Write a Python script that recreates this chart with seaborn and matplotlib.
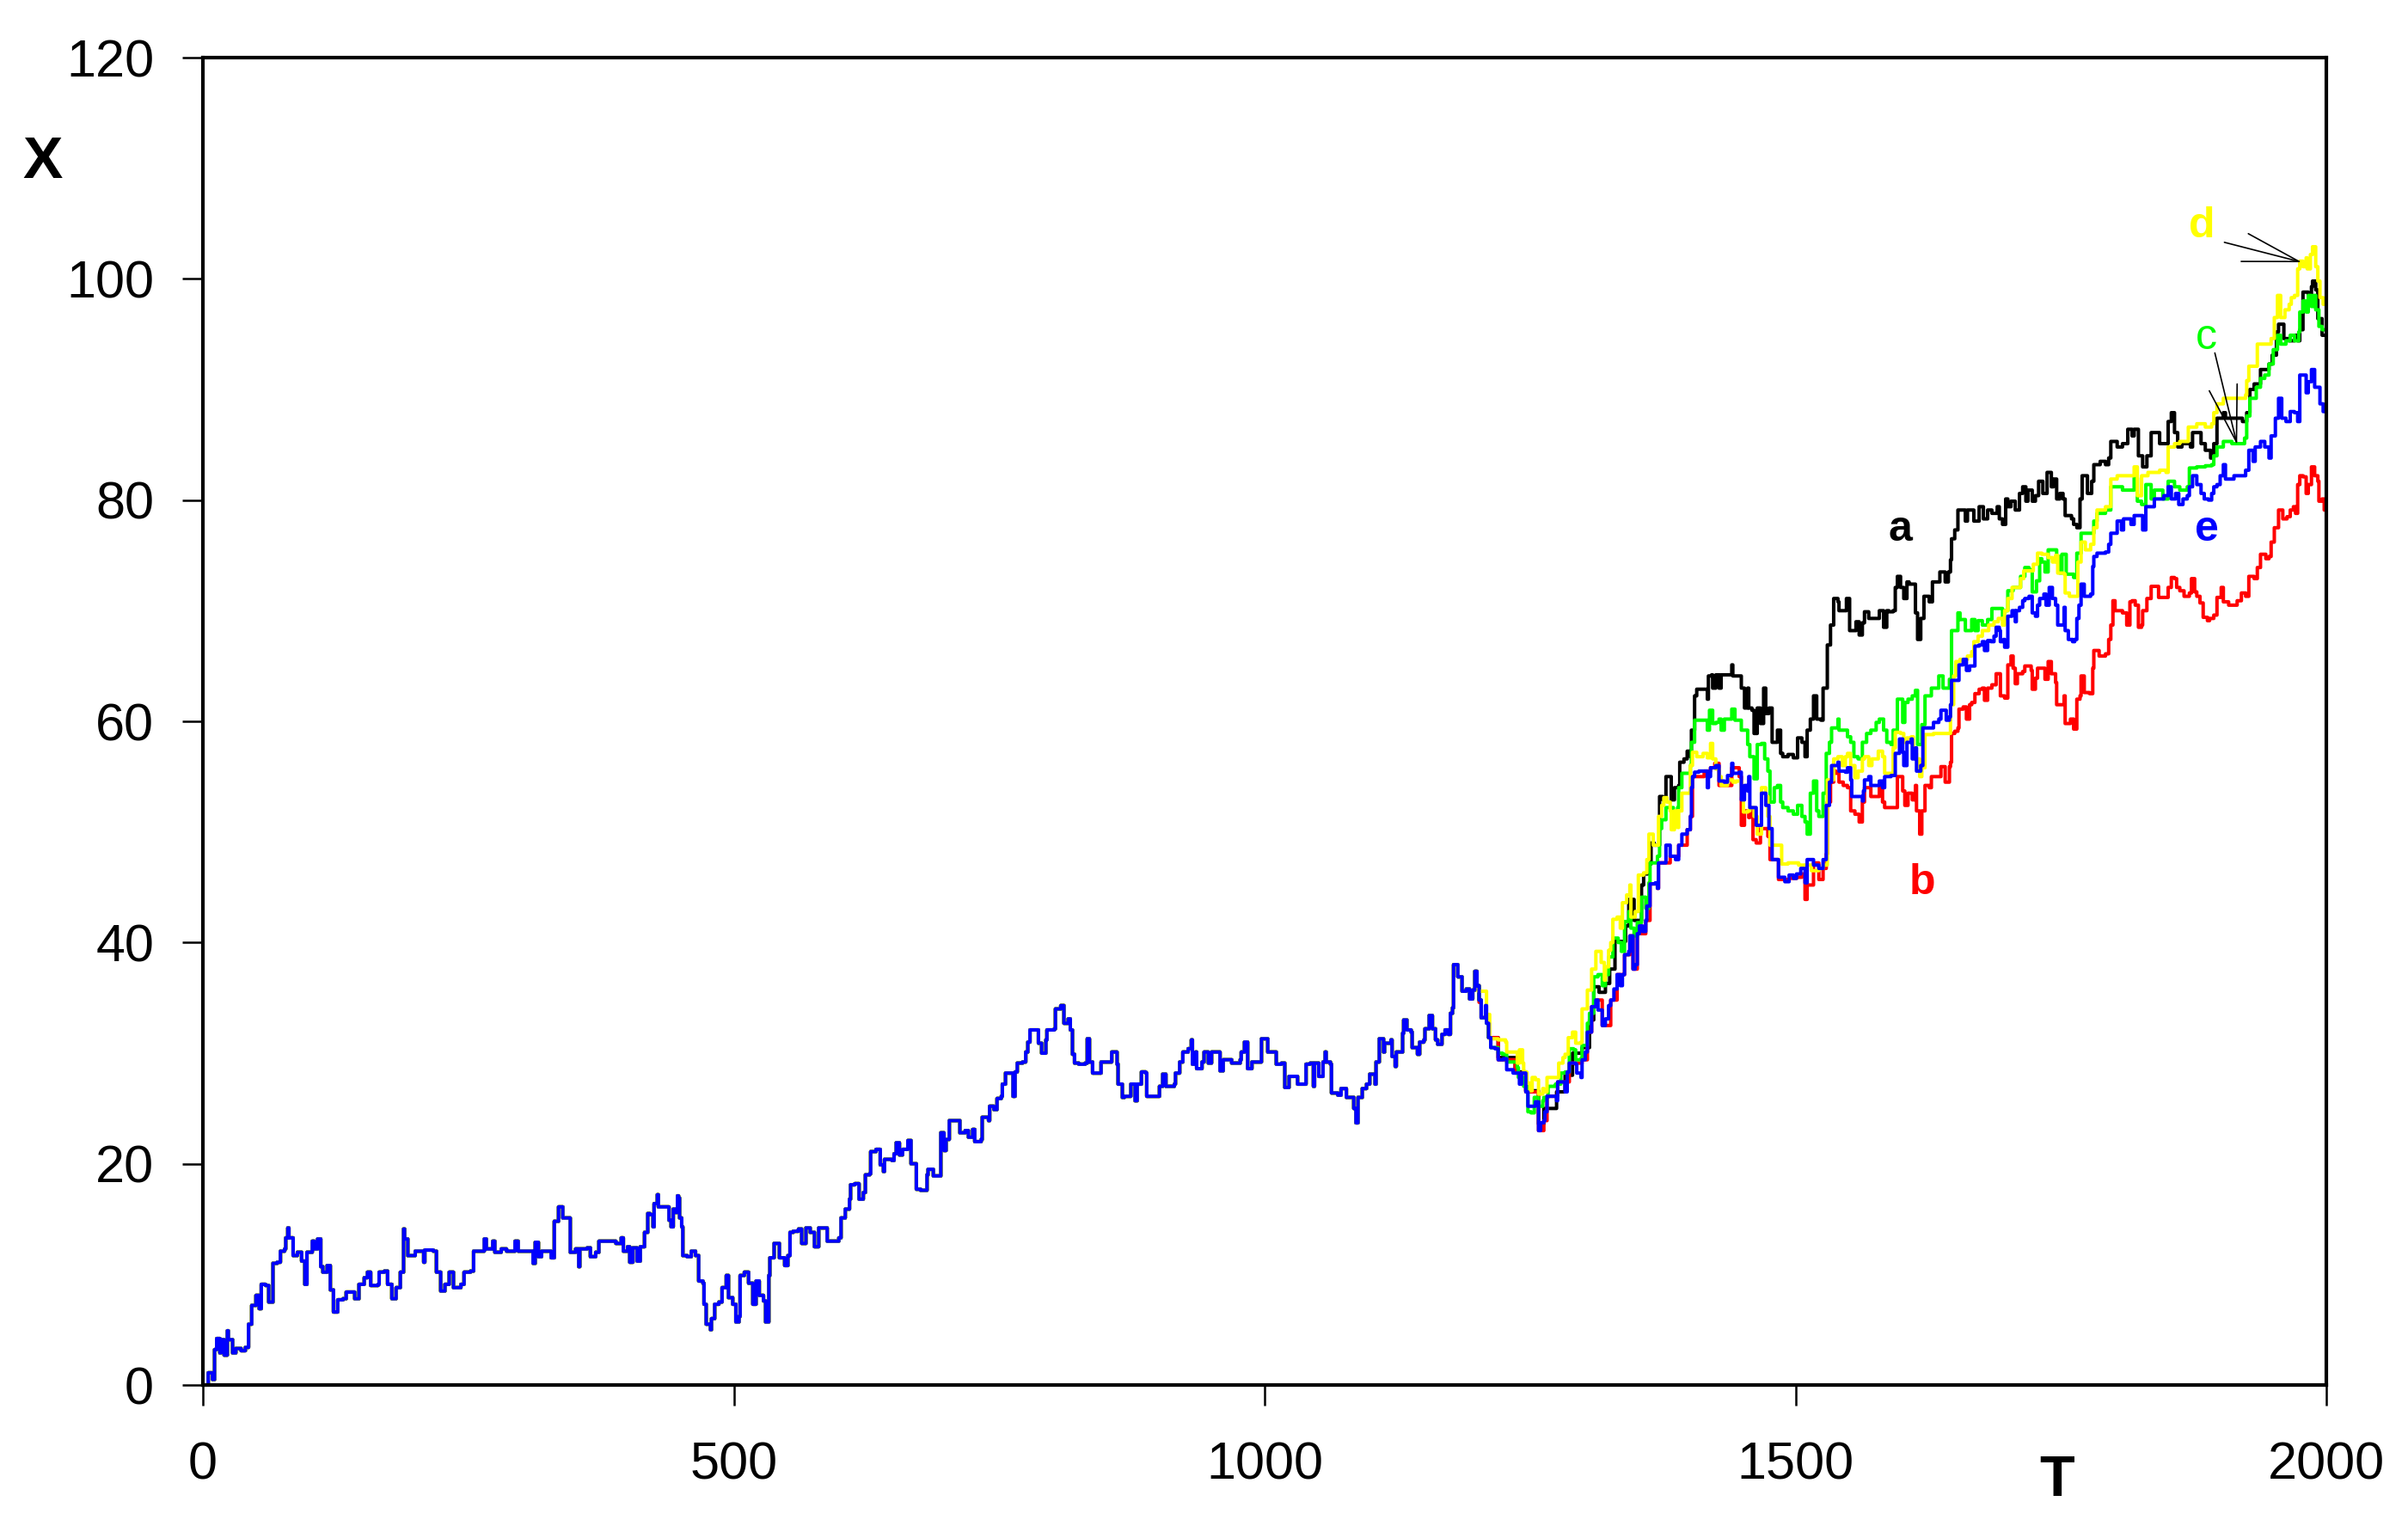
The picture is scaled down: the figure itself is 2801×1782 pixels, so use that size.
import pandas as pd
import matplotlib.pyplot as plt
import seaborn as sns

# shared history of the walk, T = 0 .. 1200 (all five runs start from it)
common = [(0, 0), (4, 0), (5, 1.1), (9, 1.1), (9, 0.5), (11, 3.2), (13, 4.2), (16, 2.9), (17, 4.1), (20, 2.7),
          (23, 4.9), (24, 4.1), (27, 4.1), (28, 2.9), (31, 3.3), (36, 3.1), (40, 3.4), (43, 5.5), (46, 7.2), (50, 8.1),
          (53, 6.9), (55, 9.1), (59, 9.0), (62, 7.5), (66, 11.0), (70, 11.1), (73, 12.1), (77, 12.3), (78, 13.3),
          (80, 14.2), (81, 13.3), (85, 11.7), (89, 12.0), (93, 11.2), (96, 9.1), (98, 12.0), (103, 13.0), (105, 12.3),
          (108, 13.2), (111, 10.7), (113, 10.2), (117, 10.8), (120, 8.6), (123, 6.6), (127, 7.7), (132, 7.8),
          (135, 8.4), (143, 7.8), (147, 9.1), (152, 9.7), (155, 10.2), (158, 9.0), (165, 9.1), (166, 10.2),
          (171, 10.3), (174, 9.1), (178, 7.8), (182, 8.8), (186, 10.2), (189, 14.1), (190, 13.2), (193, 11.7),
          (200, 12.1), (205, 12.1), (208, 11.1), (209, 12.2), (217, 12.1), (220, 10.2), (224, 8.5), (228, 9.1),
          (232, 10.2), (236, 8.8), (243, 9.1), (246, 10.2), (252, 10.3), (255, 12.1), (262, 12.1), (265, 13.2),
          (267, 12.3), (273, 13.0), (275, 12.0), (281, 12.3), (286, 12.1), (294, 13.0), (297, 12.1), (308, 12.1),
          (311, 11.0), (313, 12.9), (316, 11.6), (319, 12.1), (324, 12.1), (328, 11.5), (331, 14.8), (335, 16.1),
          (339, 15.1), (344, 15.1), (346, 12.0), (351, 12.3), (354, 10.7), (355, 12.3), (362, 12.4), (365, 11.6),
          (370, 12.0), (373, 13.0), (378, 13.0), (386, 13.0), (389, 12.8), (394, 13.3), (396, 12.1), (400, 12.5),
          (402, 11.1), (405, 12.4), (409, 11.2), (412, 12.5), (416, 13.8), (419, 15.5),
          (421, 15.4), (424, 14.3), (425, 16.4), (428, 17.2), (429, 16.1), (436, 16.1), (439, 14.9), (441, 14.3),
          (443, 15.9), (445, 15.6), (447, 17.1), (448, 16.9), (449, 15.1), (451, 14.3), (452, 11.7), (456, 11.6),
          (460, 12.1), (464, 11.7), (467, 9.4), (471, 9.2), (472, 7.3), (474, 5.5), (478, 5.0), (479, 6.0),
          (482, 7.3), (486, 7.5), (489, 8.8), (493, 9.9), (495, 7.9), (499, 7.3), (502, 5.7), (505, 6.2), (506, 9.9),
          (510, 10.2), (514, 9.2), (518, 7.3), (521, 9.4), (524, 8.1), (528, 7.6), (530, 5.7), (533, 9.9),
          (534, 11.5), (538, 12.8), (543, 11.5), (548, 10.8), (551, 11.7), (553, 13.8), (556, 13.9), (561, 14.1),
          (564, 12.8), (568, 14.2), (572, 13.8), (576, 12.5), (580, 14.2), (586, 14.2), (588, 13.0), (594, 13.0),
          (599, 13.3), (601, 15.1), (605, 15.9), (609, 16.8), (610, 18.1), (614, 18.2), (618, 16.8), (622, 17.4),
          (624, 19.0), (628, 19.1), (629, 21.1), (634, 21.3), (638, 19.9), (641, 19.3), (642, 20.4), (649, 20.3),
          (651, 20.9), (653, 21.9), (656, 20.8), (659, 21.3), (661, 21.3), (664, 22.1), (667, 20.0), (671, 20.0),
          (672, 17.7), (676, 17.6), (680, 17.6), (682, 19.0), (683, 19.5), (688, 18.9), (694, 18.9), (695, 22.8),
          (698, 21.2), (700, 22.2), (703, 23.9), (710, 23.9), (713, 22.8), (718, 23.0), (721, 22.4), (725, 23.1),
          (727, 22.0), (733, 22.2), (734, 24.2), (740, 23.9), (741, 25.2), (745, 24.9), (748, 25.9), (752, 26.1),
          (753, 27.2), (756, 28.2), (760, 28.2), (763, 26.1), (765, 28.3), (767, 29.1), (772, 29.2), (775, 30.1),
          (777, 31.0), (779, 32.1), (784, 32.1), (787, 30.9), (790, 30.0), (794, 31.2), (795, 32.1), (802, 32.2),
          (803, 34.0), (808, 34.3), (811, 32.7), (815, 33.1), (817, 32.1), (819, 29.9), (821, 29.1), (825, 29.0),
          (831, 29.1), (833, 31.3), (835, 29.2), (838, 28.2),
          (842, 28.2), (846, 28.2), (846, 29.2), (854, 29.2), (856, 30.1), (860, 30.1), (861, 29.0), (862, 27.2),
          (866, 26.0), (868, 26.1), (873, 26.1), (874, 27.2), (877, 27.2), (878, 25.7), (880, 27.2), (882, 27.2),
          (884, 28.3), (888, 28.2), (889, 26.1), (900, 26.1), (901, 27.0), (904, 28.1), (907, 27.0), (915, 27.2),
          (916, 28.2), (920, 29.2), (923, 30.1), (928, 30.4), (931, 31.2), (932, 29.0), (935, 30.1), (936, 28.6),
          (941, 29.2), (943, 30.1), (947, 29.1), (950, 30.1), (954, 30.1), (958, 28.4), (961, 29.4), (969, 29.1),
          (977, 29.4), (978, 30.1), (981, 31.0), (984, 28.6), (988, 29.2), (995, 29.2), (997, 31.3), (1001, 31.3),
          (1003, 30.1), (1009, 30.1), (1011, 29.0), (1016, 29.1), (1019, 26.9), (1023, 27.9), (1028, 27.9),
          (1031, 27.2), (1036, 27.2), (1039, 29.0), (1043, 29.1), (1046, 27.0), (1047, 29.1), (1051, 27.9),
          (1055, 29.2), (1057, 30.1), (1058, 29.2), (1062, 29.0), (1063, 26.4), (1069, 26.2), (1072, 26.8),
          (1077, 26.0), (1082, 26.0), (1084, 25.0), (1086, 23.7), (1088, 26.0), (1092, 26.8), (1096, 27.2),
          (1099, 28.1), (1104, 27.2), (1105, 29.2), (1108, 31.3), (1112, 30.1), (1113, 30.9), (1119, 31.2),
          (1120, 29.7), (1123, 28.8), (1124, 30.1), (1128, 30.1), (1130, 31.8), (1131, 33.0), (1134, 32.1),
          (1138, 31.9), (1139, 30.5), (1144, 29.9), (1146, 31.0), (1150, 31.2), (1151, 32.2), (1155, 33.4),
          (1158, 32.2), (1161, 31.2), (1163, 30.8), (1167, 31.7), (1170, 32.1), (1173, 31.7), (1175, 33.6),
          (1177, 34.1), (1178, 38.0), (1182, 36.9), (1186, 36.1), (1186, 35.6), (1190, 35.8), (1193, 34.9),
          (1196, 35.7), (1198, 37.4), (1200, 36.1)]

# run a (black), T > 1200
run_a = [(1202, 34.8), (1204, 33.2), (1211, 31.4), (1220, 29.6), (1236, 28.3), (1246, 26.6), (1258, 23.6),
         (1263, 25.0), (1275, 26.5), (1283, 28.0), (1290, 30.0), (1299, 30.5), (1306, 33.0), (1310, 36.0),
         (1315, 35.5), (1321, 36.3), (1325, 37.6), (1330, 40.1), (1340, 41.5), (1343, 43.9), (1348, 42.0),
         (1355, 45.2), (1357, 46.2), (1361, 47.1), (1364, 49.0), (1367, 48.8), (1372, 53.2), (1375, 52.9),
         (1378, 55.0), (1382, 55.0), (1383, 52.9), (1386, 54.0), (1390, 54.2), (1391, 56.3), (1395, 56.6),
         (1398, 57.3), (1401, 56.8), (1402, 59.2), (1405, 62.3), (1407, 62.9), (1413, 62.9), (1417, 62.0),
         (1418, 64.1), (1421, 64.2), (1422, 63.0), (1425, 64.2), (1428, 63.0), (1430, 64.2), (1440, 65.1),
         (1441, 64.1), (1448, 64.1), (1449, 63.0), (1452, 61.2), (1455, 63.0), (1456, 61.2), (1459, 61.0),
         (1461, 58.9), (1464, 61.2), (1467, 59.8), (1470, 63.0), (1472, 60.7), (1475, 61.2), (1478, 58.1),
         (1482, 58.1), (1483, 59.2), (1486, 57.1), (1488, 56.8), (1493, 57.0), (1498, 56.7), (1502, 58.5),
         (1506, 58.1), (1509, 56.8), (1511, 59.2), (1514, 60.2), (1517, 62.3), (1520, 60.2), (1524, 60.1),
         (1526, 63.0), (1530, 66.9), (1533, 68.7), (1536, 71.1), (1540, 70.8), (1541, 70.0), (1547, 70.0),
         (1548, 71.1), (1551, 68.2), (1555, 68.2), (1557, 69.0), (1560, 67.8), (1563, 68.9), (1565, 69.9),
         (1569, 69.3), (1578, 69.3), (1579, 70.0), (1583, 68.5), (1586, 70.0), (1588, 69.9), (1592, 70.0),
         (1594, 72.1), (1596, 73.1), (1599, 72.1), (1602, 71.1), (1605, 72.6), (1607, 72.4), (1610, 72.4),
         (1613, 69.8), (1615, 67.4), (1618, 69.3), (1621, 71.3), (1626, 70.8), (1629, 72.6), (1633, 72.6),
         (1636, 73.5), (1641, 72.6), (1644, 73.5), (1646, 74.6), (1647, 76.5), (1650, 77.3), (1653, 79.1),
         (1657, 79.1), (1660, 78.1), (1662, 79.1), (1667, 79.1), (1668, 78.1), (1673, 79.4), (1677, 78.3),
         (1681, 79.1), (1685, 78.8), (1690, 79.4), (1692, 78.3), (1695, 77.8), (1698, 80.1), (1700, 79.4),
         (1703, 79.9), (1707, 79.1), (1711, 80.6), (1714, 81.2), (1717, 79.9), (1719, 80.9), (1723, 79.9),
         (1726, 80.4), (1729, 81.7), (1733, 80.6), (1737, 82.5), (1741, 81.2), (1743, 81.9), (1746, 80.1),
         (1749, 80.6), (1752, 80.1), (1754, 78.6), (1760, 78.3), (1762, 77.8), (1765, 77.5), (1768, 80.1),
         (1770, 82.2), (1775, 80.6), (1779, 81.7), (1781, 83.2), (1787, 83.5), (1792, 83.2), (1795, 83.8),
         (1797, 85.3), (1803, 84.8), (1808, 85.1), (1813, 86.4), (1817, 85.8), (1819, 86.4), (1823, 84.0),
         (1827, 83.0), (1831, 84.0), (1835, 86.1), (1840, 86.1), (1843, 85.1), (1849, 85.1), (1851, 87.1),
         (1854, 87.9), (1857, 86.1), (1860, 84.8), (1864, 85.1), (1868, 85.1), (1872, 84.8), (1874, 86.1),
         (1878, 86.1), (1882, 85.1), (1886, 84.5), (1891, 83.8), (1894, 85.1), (1897, 87.4), (1903, 87.9),
         (1905, 87.4), (1911, 87.4), (1916, 87.4), (1921, 87.1), (1925, 87.9), (1928, 90.0), (1932, 90.5),
         (1938, 91.8), (1943, 91.8), (1946, 92.3), (1949, 93.1), (1953, 95.2), (1955, 95.9), (1960, 94.6),
         (1965, 94.4), (1970, 94.9), (1973, 94.4), (1975, 95.4), (1978, 98.8), (1982, 98.8), (1983, 97.7),
         (1986, 99.3), (1987, 99.8), (1990, 99.0), (1992, 96.4), (1996, 94.9), (2000, 94.6)]

# run b (red)
run_b = [(1202, 34.6), (1204, 33.2), (1211, 31.4), (1220, 29.4), (1236, 28.2), (1246, 26.5), (1258, 23.0),
         (1263, 23.9), (1266, 26.1), (1276, 27.4), (1287, 29.1), (1299, 29.4), (1304, 31.9), (1308, 34.2),
         (1312, 34.8), (1318, 32.5), (1326, 34.8), (1332, 37.1), (1339, 38.9), (1344, 40.6), (1347, 37.6),
         (1351, 40.8), (1359, 42.0), (1363, 45.3), (1370, 44.9), (1371, 47.2), (1382, 47.8), (1390, 48.8),
         (1398, 50.2), (1401, 51.4), (1403, 55.0), (1414, 55.5), (1420, 55.8), (1424, 56.2), (1428, 54.2),
         (1432, 54.2), (1440, 55.8), (1447, 55.0), (1449, 50.6), (1452, 51.9), (1456, 51.3), (1457, 51.9),
         (1460, 49.3), (1463, 49.0), (1467, 50.3), (1474, 49.6), (1476, 47.5), (1484, 45.7), (1494, 45.8),
         (1501, 45.9), (1506, 46.2), (1509, 43.9), (1511, 45.2), (1517, 47.2), (1522, 45.7), (1526, 46.7),
         (1529, 48.0), (1530, 52.7), (1533, 54.5), (1536, 55.5), (1538, 55.3), (1541, 54.5), (1545, 54.2),
         (1549, 54.0), (1552, 51.9), (1556, 51.6), (1560, 50.9), (1563, 52.7), (1565, 54.0), (1568, 54.0),
         (1571, 53.2), (1576, 53.2), (1579, 54.0), (1582, 52.7), (1584, 52.2), (1594, 52.2), (1596, 55.0),
         (1601, 53.7), (1603, 52.4), (1606, 53.5), (1610, 52.9), (1613, 54.2), (1614, 51.9), (1617, 49.8),
         (1619, 51.9), (1622, 54.2), (1626, 54.0), (1628, 55.0), (1635, 55.0), (1637, 55.9), (1639, 55.9),
         (1641, 54.5), (1642, 54.5), (1645, 55.9), (1646, 56.3), (1647, 58.9), (1650, 59.1), (1653, 59.4),
         (1654, 61.1), (1658, 61.3), (1661, 60.2), (1664, 61.5), (1666, 61.7), (1669, 62.5), (1673, 62.9),
         (1676, 63.0), (1678, 61.9), (1681, 63.0), (1685, 63.3), (1689, 64.3), (1692, 64.3), (1693, 62.3),
         (1697, 62.1), (1700, 65.1), (1703, 65.9), (1705, 64.8), (1707, 63.4), (1709, 64.3), (1714, 64.5),
         (1716, 65.0), (1722, 64.6), (1723, 62.9), (1726, 63.9), (1728, 64.8), (1732, 64.8), (1735, 63.8),
         (1738, 65.4), (1741, 64.3), (1745, 63.5), (1746, 61.5), (1751, 61.5), (1753, 62.3), (1754, 59.8),
         (1759, 60.2), (1762, 59.3), (1765, 62.0), (1768, 62.3), (1769, 64.1), (1772, 62.6), (1777, 62.5),
         (1780, 64.8), (1781, 66.4), (1786, 65.9), (1792, 66.1), (1795, 67.4), (1797, 68.7), (1799, 70.9),
         (1801, 70.0), (1808, 69.8), (1812, 68.7), (1815, 70.8), (1817, 70.9), (1820, 70.5), (1823, 68.5),
         (1826, 68.7), (1827, 70.0), (1831, 71.1), (1835, 72.2), (1839, 72.2), (1842, 71.2), (1849, 71.2),
         (1851, 72.1), (1854, 73.0), (1857, 72.9), (1859, 72.1), (1862, 71.8), (1866, 71.3), (1871, 71.6),
         (1873, 72.9), (1876, 71.7), (1878, 71.3), (1881, 70.7), (1884, 69.4), (1888, 69.1), (1890, 69.3),
         (1894, 69.6), (1897, 71.2), (1901, 72.1), (1903, 70.8), (1908, 70.5), (1913, 70.5), (1916, 70.9),
         (1920, 71.6), (1924, 71.3), (1927, 73.1), (1932, 72.9), (1935, 73.9), (1938, 75.1), (1943, 74.7),
         (1946, 74.9), (1948, 76.2), (1951, 77.5), (1955, 79.1), (1959, 78.3), (1963, 78.5), (1966, 79.1),
         (1969, 79.4), (1971, 78.8), (1973, 81.4), (1975, 82.2), (1978, 82.1), (1981, 80.6), (1983, 81.4),
         (1986, 83.0), (1989, 82.2), (1992, 81.7), (1993, 79.9), (1996, 80.1), (1998, 79.1), (2000, 79.2)]

# run c (green)
run_c = [(1202, 34.8), (1204, 33.2), (1209, 32.7), (1211, 31.4), (1213, 30.5), (1220, 30.0), (1224, 29.9),
         (1228, 29.2), (1232, 29.2), (1238, 28.7), (1239, 27.8), (1244, 27.0), (1248, 24.7), (1251, 24.6),
         (1254, 26.0), (1258, 25.2), (1262, 25.7), (1263, 26.0), (1267, 27.0), (1274, 27.2), (1279, 28.2),
         (1283, 28.3), (1287, 30.4), (1291, 30.3), (1293, 29.4), (1298, 29.5), (1299, 30.7), (1304, 32.7),
         (1306, 33.6), (1310, 36.9), (1314, 37.1), (1318, 36.1), (1321, 37.1), (1324, 38.7), (1328, 40.4),
         (1333, 40.0), (1336, 39.2), (1339, 41.9), (1343, 42.8), (1345, 41.3), (1348, 40.6), (1351, 41.8),
         (1355, 44.1), (1359, 43.1), (1362, 45.4), (1363, 47.2), (1368, 47.2), (1370, 47.8), (1372, 50.3),
         (1374, 51.1), (1378, 52.2), (1382, 52.2), (1385, 51.8), (1389, 52.2), (1390, 54.0), (1393, 55.3),
         (1398, 55.3), (1401, 56.0), (1402, 58.1), (1405, 60.1), (1414, 60.1), (1417, 59.2), (1419, 61.0),
         (1422, 59.8), (1425, 59.9), (1428, 60.2), (1430, 59.2), (1433, 60.2), (1437, 60.2), (1440, 61.1),
         (1443, 60.1), (1447, 60.1), (1449, 59.2), (1455, 57.9), (1457, 56.8), (1460, 56.8), (1461, 54.8),
         (1464, 57.9), (1468, 58.0), (1471, 56.6), (1474, 55.5), (1476, 52.7), (1480, 54.0), (1483, 54.2),
         (1486, 52.7), (1488, 52.2), (1493, 51.9), (1498, 51.6), (1502, 52.4), (1506, 51.4), (1509, 50.9),
         (1511, 49.8), (1514, 53.5), (1517, 54.6), (1520, 51.9), (1522, 51.4), (1526, 53.5), (1529, 57.1),
         (1532, 58.1), (1534, 59.4), (1540, 60.2), (1541, 59.2), (1547, 59.2), (1549, 58.6), (1552, 58.1),
         (1555, 56.8), (1559, 56.6), (1563, 58.1), (1567, 58.9), (1571, 59.2), (1576, 59.9), (1579, 60.2),
         (1583, 59.2), (1586, 58.1), (1590, 57.9), (1592, 59.2), (1596, 62.0), (1601, 59.9), (1603, 61.7),
         (1606, 62.0), (1610, 62.3), (1613, 62.8), (1615, 57.9), (1619, 59.7), (1622, 62.3), (1628, 63.0),
         (1635, 64.1), (1639, 63.0), (1645, 63.8), (1647, 68.2), (1653, 69.8), (1655, 69.2), (1660, 68.2),
         (1666, 69.2), (1669, 68.2), (1672, 69.1), (1676, 68.7), (1681, 69.2), (1685, 70.2), (1691, 70.2),
         (1695, 69.2), (1697, 70.0), (1700, 71.8), (1705, 72.1), (1708, 72.1), (1712, 73.1), (1716, 73.9),
         (1720, 73.7), (1723, 71.7), (1727, 72.7), (1730, 74.7), (1732, 74.4), (1735, 73.5), (1738, 75.5),
         (1741, 75.5), (1746, 74.9), (1749, 73.4), (1751, 75.1), (1755, 73.3), (1762, 73.0), (1765, 75.2),
         (1769, 77.0), (1781, 78.1), (1784, 78.8), (1792, 79.1), (1797, 81.2), (1808, 80.9), (1813, 80.9),
         (1819, 82.0), (1822, 79.9), (1826, 79.6), (1830, 81.4), (1835, 80.1), (1838, 80.9), (1846, 80.1),
         (1851, 81.7), (1857, 81.2), (1862, 80.9), (1869, 81.2), (1871, 82.9), (1878, 83.0), (1886, 83.1),
         (1892, 83.2), (1894, 84.0), (1897, 84.8), (1903, 85.3), (1911, 85.1), (1919, 85.1), (1923, 85.6),
         (1925, 87.6), (1928, 89.2), (1934, 90.2), (1938, 91.0), (1942, 91.3), (1946, 92.3), (1950, 93.6),
         (1954, 94.9), (1957, 94.1), (1962, 94.4), (1966, 94.9), (1970, 94.4), (1974, 95.2), (1975, 97.0),
         (1978, 98.0), (1981, 97.0), (1983, 98.5), (1986, 97.5), (1988, 98.5), (1990, 97.2), (1993, 95.7),
         (1996, 95.4), (2000, 95.2)]

# run d (yellow)
run_d = [(1201, 35.6), (1205, 35.6), (1209, 33.5), (1212, 31.3), (1220, 31.2), (1227, 31.0), (1228, 30.1),
         (1236, 30.1), (1238, 29.1), (1240, 30.3), (1243, 29.1), (1244, 28.3), (1247, 27.3), (1250, 26.6),
         (1252, 27.8), (1255, 27.6), (1258, 26.3), (1262, 26.8), (1263, 26.5), (1266, 27.8), (1271, 27.8),
         (1277, 29.1), (1281, 29.6), (1283, 29.9), (1286, 31.4), (1290, 31.9), (1293, 30.9), (1298, 31.0),
         (1299, 34.0), (1304, 35.7), (1306, 35.7), (1308, 37.6), (1312, 39.2), (1314, 39.2), (1317, 38.2),
         (1320, 36.6), (1321, 37.8), (1324, 39.3), (1326, 40.0), (1328, 42.1), (1332, 42.3), (1335, 41.3),
         (1337, 43.6), (1341, 44.3), (1344, 45.2), (1345, 42.3), (1349, 42.8), (1352, 46.1), (1357, 46.3),
         (1360, 47.5), (1362, 49.8), (1364, 49.8), (1366, 48.8), (1371, 51.4), (1374, 52.4), (1376, 53.1),
         (1379, 52.7), (1382, 51.9), (1383, 50.2), (1386, 51.9), (1389, 50.4), (1390, 51.9), (1393, 53.5),
         (1397, 53.5), (1401, 56.0), (1403, 57.2), (1407, 56.8), (1413, 57.1), (1417, 56.7), (1420, 58.0),
         (1422, 56.6), (1425, 55.7), (1428, 55.0), (1430, 54.2), (1436, 54.7), (1441, 54.5), (1444, 54.6),
         (1449, 53.2), (1451, 51.8), (1455, 51.9), (1457, 52.2), (1461, 51.4), (1464, 49.8), (1468, 54.0),
         (1472, 53.2), (1474, 51.4), (1476, 48.8), (1487, 47.1), (1493, 47.2), (1501, 47.2), (1503, 47.0),
         (1509, 47.0), (1515, 46.5), (1522, 46.7), (1526, 47.0), (1530, 54.7), (1536, 56.6), (1540, 56.8),
         (1544, 56.0), (1547, 56.8), (1549, 57.1), (1552, 56.0), (1556, 54.9), (1559, 55.5), (1563, 56.6),
         (1565, 56.8), (1569, 56.0), (1572, 56.6), (1576, 56.6), (1578, 57.3), (1582, 56.8), (1584, 55.3),
         (1590, 55.3), (1592, 57.6), (1594, 59.0), (1599, 58.9), (1602, 58.1), (1605, 58.5), (1609, 58.6),
         (1611, 57.1), (1614, 56.6), (1617, 55.0), (1619, 55.8), (1622, 58.8), (1630, 58.9), (1638, 58.9),
         (1646, 61.5), (1649, 64.1), (1651, 65.4), (1655, 65.6), (1660, 65.6), (1662, 65.9), (1666, 66.3),
         (1668, 67.2), (1672, 67.7), (1676, 68.2), (1682, 68.7), (1687, 69.0), (1691, 69.3), (1695, 68.7),
         (1697, 70.0), (1700, 71.1), (1704, 72.1), (1708, 72.1), (1712, 72.9), (1715, 73.6), (1720, 73.6),
         (1724, 74.2), (1728, 75.2), (1732, 75.1), (1738, 74.8), (1742, 74.4), (1745, 75.0), (1747, 73.4),
         (1753, 73.3), (1754, 71.6), (1758, 71.3), (1762, 71.3), (1766, 74.4), (1769, 76.2), (1773, 75.5),
         (1778, 76.0), (1781, 77.5), (1784, 79.1), (1792, 79.4), (1797, 81.9), (1803, 82.2), (1808, 82.2),
         (1819, 83.0), (1822, 80.4), (1826, 82.2), (1832, 82.5), (1838, 82.5), (1843, 82.7), (1849, 82.5),
         (1851, 84.8), (1857, 85.1), (1862, 85.3), (1867, 85.3), (1870, 86.6), (1878, 86.9), (1886, 86.6),
         (1892, 86.9), (1894, 87.9), (1897, 88.7), (1903, 89.2), (1911, 89.2), (1916, 89.2), (1924, 89.5),
         (1925, 90.8), (1927, 92.1), (1931, 92.1), (1935, 94.1), (1940, 94.1), (1946, 94.1), (1948, 94.6),
         (1951, 96.5), (1954, 98.5), (1957, 96.5), (1961, 97.2), (1965, 97.7), (1967, 98.3), (1970, 98.5),
         (1973, 100.9), (1975, 101.6), (1978, 101.1), (1981, 101.9), (1982, 100.9), (1985, 102.2),
         (1987, 102.9), (1990, 101.1), (1992, 99.8), (1994, 98.3), (1997, 97.7), (2000, 98.0)]

# run e (blue)
run_e = [(1202, 34.8), (1204, 33.2), (1208, 34.3), (1209, 32.7), (1211, 31.4), (1213, 30.5), (1217, 30.4),
         (1220, 29.4), (1225, 29.5), (1228, 28.5), (1234, 28.2), (1236, 28.2), (1240, 27.2), (1242, 28.2),
         (1246, 26.5), (1248, 25.2), (1252, 25.2), (1255, 25.6), (1258, 23.0), (1260, 23.7), (1263, 23.9),
         (1264, 24.7), (1266, 26.1), (1272, 26.1), (1275, 25.7), (1276, 27.4), (1282, 27.4), (1283, 26.5),
         (1285, 28.3), (1287, 29.1), (1293, 29.0), (1294, 28.2), (1298, 27.8), (1299, 29.4), (1302, 30.1),
         (1304, 31.9), (1306, 31.9), (1308, 34.2), (1312, 34.8), (1314, 33.9), (1318, 32.5), (1321, 33.1),
         (1324, 34.3), (1326, 34.8), (1329, 35.8), (1332, 37.1), (1335, 36.1), (1337, 37.1), (1339, 38.9),
         (1343, 39.2), (1344, 40.6), (1347, 37.6), (1349, 38.0), (1351, 40.8), (1353, 41.5), (1356, 41.0),
         (1359, 42.0), (1360, 43.3), (1363, 45.3), (1368, 45.4), (1370, 44.9), (1371, 47.2), (1378, 48.8),
         (1382, 47.8), (1387, 47.5), (1390, 48.8), (1393, 49.8), (1398, 50.2), (1401, 51.4), (1402, 54.0),
         (1403, 55.0), (1405, 55.4), (1409, 55.5), (1414, 55.5), (1417, 54.0), (1418, 55.0), (1420, 55.8),
         (1425, 56.0), (1428, 54.6), (1433, 54.5), (1436, 55.1), (1440, 56.2), (1441, 55.3), (1447, 55.4),
         (1449, 52.9), (1452, 54.2), (1455, 53.7), (1456, 55.0), (1457, 52.2), (1463, 50.6), (1468, 53.5),
         (1472, 52.4), (1475, 50.3), (1478, 47.5), (1484, 45.9), (1490, 45.5), (1494, 46.1), (1498, 45.8),
         (1501, 46.2), (1505, 46.7), (1509, 45.4), (1511, 47.5), (1517, 47.0), (1522, 46.7), (1526, 47.5),
         (1529, 52.4), (1532, 54.5), (1534, 56.0), (1540, 56.3), (1541, 55.5), (1547, 55.4), (1549, 55.8),
         (1552, 54.7), (1553, 53.2), (1560, 53.2), (1563, 52.8), (1564, 53.7), (1565, 54.7), (1569, 55.0),
         (1571, 54.2), (1576, 54.2), (1579, 54.6), (1582, 54.0), (1584, 55.0), (1590, 55.1), (1594, 57.1),
         (1598, 58.4), (1601, 57.2), (1602, 56.0), (1605, 58.1), (1609, 58.4), (1610, 56.6), (1613, 57.6),
         (1614, 55.5), (1617, 55.5), (1618, 56.0), (1620, 59.4), (1624, 59.4), (1630, 59.9), (1635, 60.2),
         (1637, 61.0), (1641, 61.0), (1642, 60.1), (1645, 60.4), (1646, 61.5), (1647, 63.7), (1651, 63.7),
         (1654, 65.1), (1658, 65.6), (1661, 64.6), (1664, 65.0), (1668, 65.0), (1669, 66.8), (1673, 66.9),
         (1676, 67.2), (1678, 66.4), (1681, 67.3), (1684, 67.2), (1687, 67.7), (1689, 68.5), (1692, 68.2),
         (1693, 67.2), (1696, 67.4), (1697, 66.7), (1700, 69.5), (1704, 70.0), (1707, 69.0), (1708, 70.0),
         (1711, 70.3), (1714, 70.9), (1716, 71.1), (1720, 71.3), (1723, 69.8), (1726, 69.5), (1728, 70.5),
         (1730, 71.1), (1734, 71.5), (1736, 70.5), (1739, 72.1), (1742, 71.1), (1745, 70.5), (1747, 68.7),
         (1751, 68.7), (1753, 70.3), (1754, 68.2), (1757, 67.4), (1761, 67.2), (1763, 67.4), (1765, 69.3),
         (1767, 70.5), (1769, 72.4), (1772, 71.3), (1774, 71.3), (1778, 71.5), (1780, 74.0), (1781, 74.9),
         (1784, 75.2), (1792, 75.3), (1795, 76.0), (1797, 77.0), (1803, 78.1), (1807, 77.3), (1809, 78.3),
         (1813, 78.3), (1816, 77.8), (1819, 78.6), (1824, 78.6), (1827, 77.3), (1830, 79.4), (1834, 79.4),
         (1838, 80.1), (1843, 80.1), (1847, 80.4), (1851, 81.2), (1854, 80.1), (1858, 80.6), (1861, 79.6),
         (1865, 80.1), (1869, 80.4), (1871, 81.2), (1874, 82.2), (1878, 81.4), (1882, 80.6), (1885, 80.1),
         (1889, 80.0), (1892, 80.6), (1894, 81.2), (1897, 81.4), (1900, 82.2), (1903, 83.2), (1905, 81.9),
         (1913, 82.2), (1919, 82.2), (1924, 82.7), (1927, 84.5), (1931, 83.5), (1933, 84.8), (1938, 85.3),
         (1942, 84.8), (1946, 83.8), (1948, 85.8), (1952, 87.4), (1955, 89.2), (1958, 87.4), (1962, 87.1),
         (1966, 88.0), (1970, 87.9), (1973, 87.1), (1975, 91.3), (1979, 91.3), (1981, 89.7), (1983, 90.7),
         (1986, 91.8), (1989, 90.2), (1993, 90.2), (1994, 88.7), (1997, 88.0), (2000, 87.8)]

names = ["a", "b", "c", "d", "e"]
colors = ["#000000", "#ff0000", "#00ff00", "#ffff00", "#0000ff"]
runs = [run_a, run_b, run_c, run_d, run_e]

# label spots (T, X) and arrow (start -> tip) for c and d
label_pos = {"a": (1599, 77.3), "b": (1619, 45.4), "c": (1887, 94.7), "d": (1883, 104.8), "e": (1887, 77.3)}
label_weight = {"a": "bold", "b": "bold", "c": "normal", "d": "bold", "e": "bold"}
arrows = {"c": ((1895, 93.3), (1916, 85.0)), "d": ((1904, 103.3), (1977, 101.5))}

rows = []
for name, run in zip(names, runs):
    for t, x in common + run:
        rows.append((name, t, x))
df = pd.DataFrame(rows, columns=["run", "T", "X"])

sns.set_style("ticks")
plt.rcParams["font.family"] = ["Liberation Sans", "DejaVu Sans"]

fig = plt.figure(figsize=(28.01, 17.82), dpi=100)
ax = fig.add_axes([236 / 2801, 1 - 1611 / 1782, 2470 / 2801, 1544 / 1782])

# the walks move in steps, so draw them as staircases
sns.lineplot(data=df, x="T", y="X", hue="run", hue_order=names, palette=colors,
             estimator=None, sort=False, linewidth=2.9, drawstyle="steps-post",
             legend=False, ax=ax)

ax.set_xlim(0, 2000)
ax.set_ylim(0, 120)
ax.set_xticks([0, 500, 1000, 1500, 2000])
ax.set_yticks(range(0, 121, 20))
for s in ax.spines.values():
    s.set_visible(True)
    s.set_linewidth(3)
    s.set_color("black")
ax.tick_params(axis="both", direction="out", length=17, width=1.8, colors="black", labelsize=44)
ax.tick_params(axis="y", pad=24)
ax.tick_params(axis="x", pad=30)

ax.set_xlabel("T", fontsize=48, fontweight="bold", color="black", va="center")
ax.xaxis.set_label_coords(0.873, -0.0725)
ax.set_ylabel("X", fontsize=50, fontweight="bold", color="black", rotation=0, ha="center", va="center")
ax.yaxis.set_label_coords(-0.0753, 0.921)

for name, col in zip(names, colors):
    t, x = label_pos[name]
    ax.text(t, x, name, color=col, fontsize=36, fontweight=label_weight[name], ha="center", va="center")

for name, (start, tip) in arrows.items():
    ax.annotate("", xy=tip, xytext=start,
                arrowprops=dict(arrowstyle="->,head_length=4.7,head_width=1.2", color="black",
                                lw=1.2, mutation_scale=10, shrinkA=0, shrinkB=0))

fig.savefig("out.png", dpi=100)
